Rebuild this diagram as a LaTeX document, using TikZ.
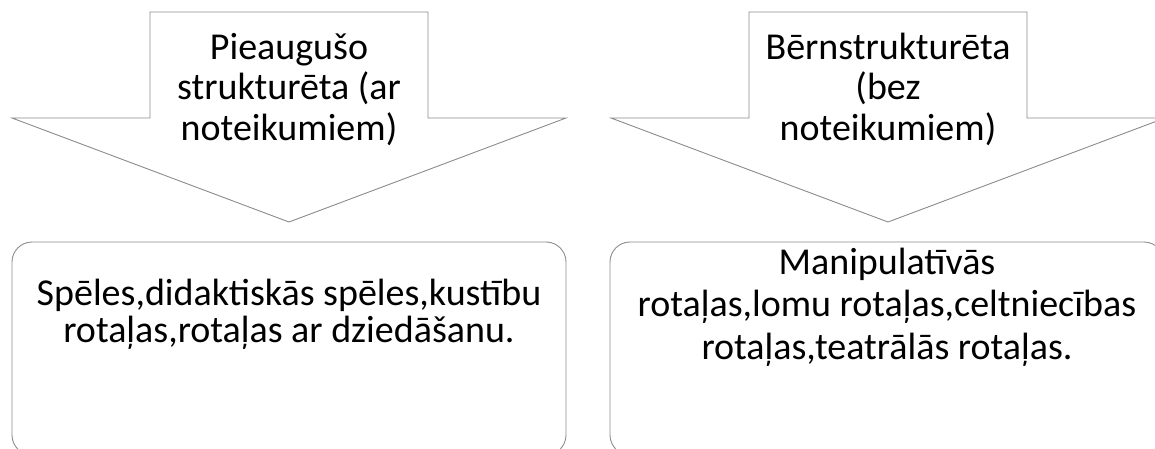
\documentclass[tikz,border=0pt]{standalone}
\usepackage{fontspec}
\setmainfont{Carlito}
\definecolor{linegray}{RGB}{140,140,140}
\tikzset{
  arrowshape/.style={draw=linegray, line width=0.9pt, fill=white, line join=miter},
  boxshape/.style={draw=linegray, line width=0.9pt, fill=white, rounded corners=20pt},
  arrowtext/.style={align=center, font=\fontsize{38}{40.5}\selectfont, inner sep=0pt, anchor=base},
  boxtextA/.style={align=center, font=\fontsize{38}{37}\selectfont, inner sep=0pt, anchor=base},
  boxtextB/.style={align=center, font=\fontsize{38}{42.5}\selectfont, inner sep=0pt, anchor=base},
}
\begin{document}
\begin{tikzpicture}[x=1pt,y=-1pt]
\clip (0,0) rectangle (1155,448);
\fill[white] (0,0) rectangle (1155,448);
% left arrow
\coordinate (a1tip) at (289,222);
\draw[arrowshape] (150,12) -- (428,12) -- (428,118) -- (566,118) -- (a1tip) -- (12,118) -- (150,118) -- cycle;
\node[arrowtext] (t1) at (289,140) {Pieaugušo\\strukturēta (ar\\noteikumiem)};
% right arrow
\coordinate (a2tip) at (888,222);
\draw[arrowshape] (749,12) -- (1027,12) -- (1027,118) -- (1165,118) -- (a2tip) -- (611,118) -- (749,118) -- cycle;
\node[arrowtext] (t2) at (888,140) {Bērnstrukturēta\\(bez\\noteikumiem)};
% boxes
\draw[boxshape] (12,242) rectangle (566,455);
\node[inner sep=0pt, minimum width=554pt, minimum height=213pt] (b1) at (289,348.5) {};
\draw[boxshape] (610,242) rectangle (1164,455);
\node[inner sep=0pt, minimum width=554pt, minimum height=213pt] (b2) at (887,348.5) {};
\node[boxtextA] (bt1) at (289,342) {Spēles,didaktiskās spēles,kustību\\rotaļas,rotaļas ar dziedāšanu.};
\node[boxtextB] (bt2) at (887,359) {Manipulatīvās\\rotaļas,lomu rotaļas,celtniecības\\rotaļas,teatrālās rotaļas.};
\end{tikzpicture}
\end{document}
